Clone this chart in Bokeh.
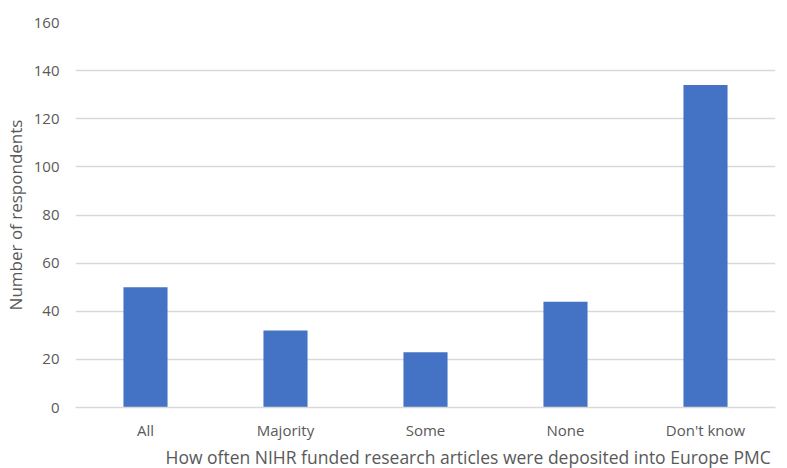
from bokeh.plotting import figure
from bokeh.models import ColumnDataSource, Title, FixedTicker, Range1d
from bokeh.embed import file_html
from bokeh.resources import INLINE

# Survey responses
categories = ["All", "Majority", "Some", "None", "Don't know"]
respondents = [50, 32, 23, 44, 134]
y_ticks = [0, 20, 40, 60, 80, 100, 120, 140, 160]

FONT = "Open Sans"
TEXT_COLOR = "#595959"
GRID_COLOR = "#d9d9d9"
BAR_COLOR = "#4472C4"

source = ColumnDataSource(data=dict(category=categories, value=respondents))

p = figure(
    x_range=categories,
    width=787,
    height=468,
    output_backend="svg",
    toolbar_location=None,
    min_border_left=10,
    min_border_right=12,
    min_border_top=22,
    min_border_bottom=61,
)
p.y_range = Range1d(0, 160)

p.vbar(x="category", top="value", width=0.315, source=source,
       fill_color=BAR_COLOR, line_color=None)

p.outline_line_color = None
p.background_fill_color = "white"
p.border_fill_color = "white"

# y axis
p.yaxis.ticker = FixedTicker(ticks=y_ticks)
p.yaxis.axis_line_color = None
p.yaxis.major_tick_line_color = None
p.yaxis.minor_tick_line_color = None
p.yaxis.major_tick_in = 0
p.yaxis.major_tick_out = 0
p.yaxis.major_label_text_font = FONT
p.yaxis.major_label_text_font_size = "15px"
p.yaxis.major_label_text_color = TEXT_COLOR
p.yaxis.major_label_standoff = 16
p.yaxis.axis_label = "Number of respondents"
p.yaxis.axis_label_text_font = FONT
p.yaxis.axis_label_text_font_size = "17px"
p.yaxis.axis_label_text_font_style = "normal"
p.yaxis.axis_label_text_color = TEXT_COLOR
p.yaxis.axis_label_standoff = 4

# x axis
p.xaxis.axis_line_color = GRID_COLOR
p.xaxis.axis_line_width = 1.5
p.xaxis.major_tick_line_color = None
p.xaxis.minor_tick_line_color = None
p.xaxis.major_tick_in = 0
p.xaxis.major_tick_out = 0
p.xaxis.major_label_text_font = FONT
p.xaxis.major_label_text_font_size = "15px"
p.xaxis.major_label_text_color = TEXT_COLOR
p.xaxis.major_label_standoff = 12

p.xgrid.grid_line_color = None
p.ygrid.grid_line_color = GRID_COLOR
p.ygrid.grid_line_width = 1.5

# x-axis caption, set below the category labels
caption = Title(
    text="How often NIHR funded research articles were deposited into Europe PMC",
    align="left", offset=90, standoff=0,
    text_font=FONT, text_font_size="17.5px", text_color=TEXT_COLOR,
    text_font_style="normal",
)
p.add_layout(caption, "below")

open("out.html", "w").write(file_html(p, INLINE))
